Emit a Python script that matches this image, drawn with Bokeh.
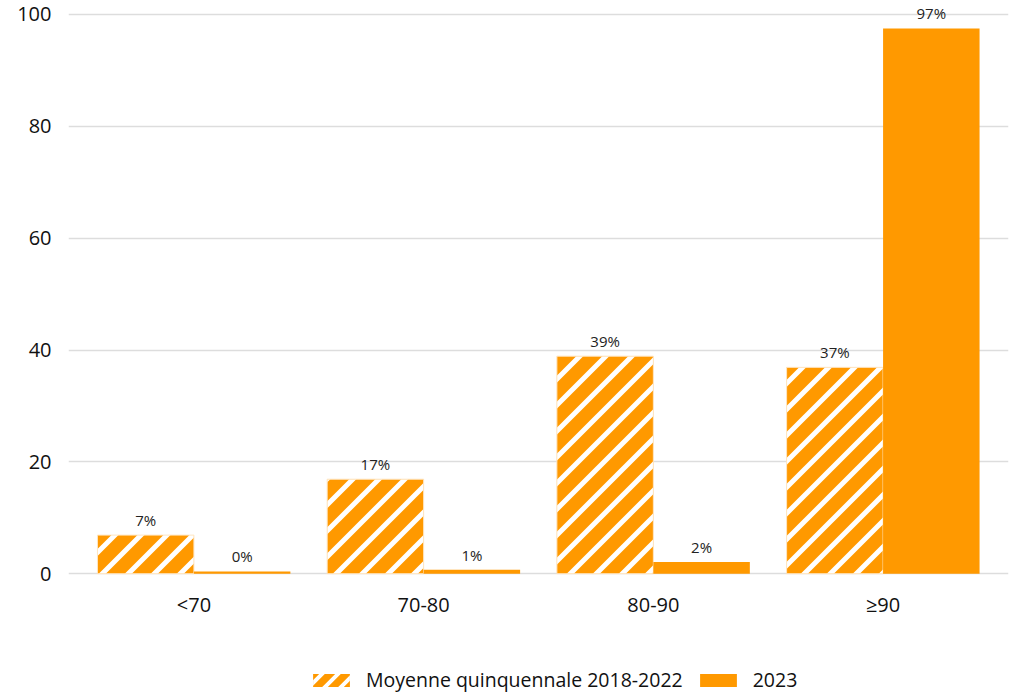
from urllib.parse import quote
from bokeh.plotting import figure
from bokeh.layouts import column
from bokeh.models import (ColumnDataSource, FactorRange, Range1d, Legend, LegendItem,
                          FixedTicker, ImageURLTexture)
from bokeh.transform import dodge
from bokeh.core.properties import value
from bokeh.embed import file_html
from bokeh.resources import INLINE

categories = ["<70", "70-80", "80-90", "≥90"]
moyenne = [6.9, 16.9, 38.9, 36.9]
annee_2023 = [0.4, 0.7, 2.1, 97.5]
labels_moyenne = ["7%", "17%", "39%", "37%"]
labels_2023 = ["0%", "1%", "2%", "97%"]
series_names = ["Moyenne quinquennale 2018-2022", "2023"]
y_ticks = [0, 20, 40, 60, 80, 100]

ORANGE = "#FF9900"
FONT = "Open Sans"


def stripe_texture(s, w):
    svg = (f"<svg xmlns='http://www.w3.org/2000/svg' width='{s}' height='{s}' viewBox='0 0 {s} {s}'>"
           f"<path d='M{-s},{s} L{s},{-s} M0,{s} L{s},0 M0,{2*s} L{2*s},0' "
           f"stroke='white' stroke-width='{w}' fill='none'/></svg>")
    return ImageURLTexture(url="data:image/svg+xml;charset=utf-8," + quote(svg), repetition="repeat")


def hatch_style(s, w):
    return dict(hatch_pattern=value("stripes"), hatch_extra={"stripes": stripe_texture(s, w)})


src = ColumnDataSource(dict(cat=categories, moy=moyenne, y23=annee_2023,
                            lm=labels_moyenne, l23=labels_2023))

p = figure(width=1010, height=640, output_backend="svg", toolbar_location=None,
           x_range=FactorRange(factors=categories, range_padding=0.023),
           y_range=Range1d(-0.5, 102.5),
           min_border_left=68, min_border_right=2, min_border_top=0, min_border_bottom=64)
p.outline_line_color = None
p.xgrid.grid_line_color = None
p.ygrid.grid_line_color = "#dddddd"
p.ygrid.grid_line_width = 1.5
p.yaxis.ticker = FixedTicker(ticks=y_ticks)

for ax in (p.xaxis, p.yaxis):
    ax.axis_line_color = None
    ax.major_tick_line_color = None
    ax.minor_tick_line_color = None
    ax.major_label_text_font = FONT
    ax.major_label_text_font_size = "20px"
    ax.major_label_text_color = "#111111"
p.xaxis.major_label_standoff = 8
p.yaxis.major_label_standoff = 11

SOLID = dict(fill_color=ORANGE, line_color=None)

p.vbar(x=dodge("cat", -0.21, range=p.x_range), top="moy", width=0.42, source=src,
       fill_color=ORANGE, line_color="#FFE6C2", line_width=1, **hatch_style(26, 5))
p.vbar(x=dodge("cat", 0.21, range=p.x_range), top="y23", width=0.42, source=src, **SOLID)

p.text(x=dodge("cat", -0.21, range=p.x_range), y="moy", text="lm", source=src,
       text_align="center", text_baseline="bottom", y_offset=-5,
       text_font=value(FONT), text_font_size="15px", text_color="#222222")
p.text(x=dodge("cat", 0.21, range=p.x_range), y="y23", text="l23", source=src,
       text_align="center", text_baseline="bottom", y_offset=-5,
       text_font=value(FONT), text_font_size="15px", text_color="#222222")

# legend strip (swatch renderers have zero height, so nothing is drawn in the strip)
lg = figure(width=1010, height=53, output_backend="svg", toolbar_location=None,
            x_axis_type=None, y_axis_type=None,
            x_range=Range1d(0, 1), y_range=Range1d(0, 1),
            min_border_left=0, min_border_right=0, min_border_top=0, min_border_bottom=0)
lg.grid.visible = False
lg.outline_line_color = None
swatch = ColumnDataSource(dict(x=[-10.0], top=[0.0]))
g1 = lg.vbar(x="x", top="top", width=0.1, source=swatch,
             fill_color=ORANGE, line_color=None, **hatch_style(16, 4))
g2 = lg.vbar(x="x", top="top", width=0.1, source=swatch, **SOLID)

legend = Legend(items=[LegendItem(label=series_names[0], renderers=[g1]),
                       LegendItem(label=series_names[1], renderers=[g2])],
                orientation="horizontal", location=(240, 0),
                glyph_width=46, glyph_height=16, label_height=16,
                label_text_font=FONT, label_text_font_size="19.5px", label_text_color="#111111",
                label_standoff=12, spacing=12, padding=0, margin=0,
                border_line_color=None, background_fill_alpha=0)
lg.add_layout(legend, "center")

open("out.html", "w").write(file_html(column(p, lg, spacing=0), INLINE))
